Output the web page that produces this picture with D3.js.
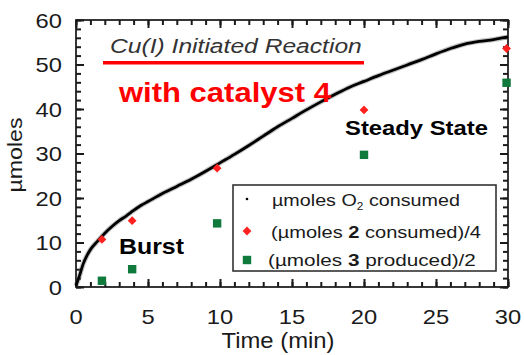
<!DOCTYPE html>
<html>
<head>
<meta charset="utf-8">
<script src="https://cdn.jsdelivr.net/npm/d3@7"></script>
<style>
  body { margin: 0; background: #fff; }
  svg { display: block; }
  text { font-family: "Liberation Sans", Arial, Helvetica, sans-serif; }
</style>
</head>
<body>
<svg id="chart" width="524" height="355"></svg>
<script>
// O2 uptake trace (time in min, µmoles O2 consumed)
const o2Time  = [0, 0.25, 0.5, 0.75, 1, 1.5, 2, 2.5, 3, 3.5, 4, 4.5, 5, 6, 7, 8, 9, 10,
                 11, 12, 13, 14, 15, 16, 17, 18, 19, 20, 21, 22, 23, 24, 25, 26, 27, 28, 29, 29.5, 30];
const o2Moles = [0.3, 2.6, 5.2, 7.0, 8.4, 10.3, 12.1, 13.6, 14.9, 16.0, 17.2, 18.3, 19.2, 21.0, 22.6, 24.2, 26.0, 27.9,
                 29.8, 31.8, 33.9, 36.0, 37.9, 39.8, 41.6, 43.3, 44.9, 46.2, 47.5, 48.7, 49.9, 51.1, 52.4, 53.6, 54.6, 55.2, 55.6, 55.9, 56.2];

// Discrete samples
const sampleTime = [1.8, 3.9, 9.8, 20.0, 29.9];
const consumed2  = [10.7, 14.9, 26.7, 39.8, 53.6];   // (µmoles 2 consumed)/4
const produced3  = [1.4, 4.0, 14.3, 29.7, 45.9];     // (µmoles 3 produced)/2

const xTicks = [0, 5, 10, 15, 20, 25, 30];
const yTicks = [0, 10, 20, 30, 40, 50, 60];
const xMinorTicks = d3.range(0, 31, 1);
const yMinorTicks = d3.range(0, 61, 2);

const RED = "#ff2020";
const GREEN = "#0f7a3c";

const svg = d3.select("#chart");
const x = d3.scaleLinear().domain([0, 30]).range([76, 508]);
const y = d3.scaleLinear().domain([0, 60]).range([287, 20]);

// Helper: text whose width is fitted by a horizontal scale
function fitText(parent, opts) {
  const t = parent.append("text")
    .attr("font-size", opts.size)
    .attr("font-weight", opts.weight || "normal")
    .attr("font-style", opts.style || "normal")
    .attr("fill", opts.fill || "#111")
    .attr("text-anchor", opts.anchor || "start");
  if (opts.parts) {
    opts.parts.forEach(p => {
      const s = t.append("tspan").text(p.t);
      if (p.bold) s.attr("font-weight", "bold");
      if (p.sub) s.attr("font-size", opts.size * 0.6).attr("dy", opts.size * 0.25);
      if (p.unsub) s.attr("dy", -opts.size * 0.25);
    });
  } else {
    t.text(opts.text);
  }
  let sx = opts.scale || 1;
  if (opts.width) sx = opts.width / t.node().getComputedTextLength();
  const rot = opts.rotate ? ` rotate(${opts.rotate})` : "";
  t.attr("transform", `translate(${opts.x},${opts.y})${rot} scale(${sx},1)`);
  return t;
}

// Frame
svg.append("rect")
  .attr("x", x(0)).attr("y", y(60))
  .attr("width", x(30) - x(0)).attr("height", y(0) - y(60))
  .attr("fill", "none").attr("stroke", "#222").attr("stroke-width", 1.8);

// Inward tick combs on all four sides, drawn with d3 axes
function comb(axis, tx, ty) {
  const g = svg.append("g").attr("transform", `translate(${tx},${ty})`).call(axis);
  g.select(".domain").remove();
  g.selectAll(".tick line").attr("stroke", "#1a1a1a").attr("stroke-width", 2);
  g.selectAll(".tick text").remove();
}
[[5, xMinorTicks], [8, xTicks]].forEach(([len, vals]) => {
  comb(d3.axisBottom(x).tickValues(vals).tickSize(-len).tickFormat(""), 0, y(0));
  comb(d3.axisTop(x).tickValues(vals).tickSize(-len).tickFormat(""), 0, y(60));
});
[[5, yMinorTicks], [8, yTicks]].forEach(([len, vals]) => {
  comb(d3.axisLeft(y).tickValues(vals).tickSize(-len).tickFormat(""), x(0), 0);
  comb(d3.axisRight(y).tickValues(vals).tickSize(-len).tickFormat(""), x(30), 0);
});

// Tick labels
xTicks.forEach(v => fitText(svg, { text: String(v), x: x(v), y: 324, size: 21, anchor: "middle", scale: 1.13, fill: "#1a1a1a" }));
yTicks.forEach(v => fitText(svg, { text: String(v), x: 62, y: y(v) + 7.5, size: 21, anchor: "end", scale: 1.13, fill: "#1a1a1a" }));

// Axis titles
fitText(svg, { text: "Time (min)", x: 278, y: 348, size: 22, anchor: "middle", width: 113, fill: "#1a1a1a" });
fitText(svg, { text: "µmoles", x: 22, y: 155, size: 21, anchor: "middle", width: 75, rotate: -90, fill: "#1a1a1a" });

// O2 trace
const traceLine = d3.line().x((d, i) => x(o2Time[i])).y(d => y(d)).curve(d3.curveMonotoneX);
svg.append("path").datum(o2Moles).attr("d", traceLine)
  .attr("fill", "none").attr("stroke", "#666").attr("stroke-width", 5).attr("stroke-opacity", 0.4);
svg.append("path").datum(o2Moles).attr("d", traceLine)
  .attr("fill", "none").attr("stroke", "#000").attr("stroke-width", 2.8);

// Sample markers: rotated squares and squares
const diamondPath = "M0,-4.4L4.4,0L0,4.4L-4.4,0Z";
svg.append("g").selectAll("path").data(consumed2).join("path")
  .attr("d", diamondPath)
  .attr("transform", (d, i) => `translate(${x(sampleTime[i])},${y(d)})`)
  .attr("fill", RED);

svg.append("g").selectAll("rect").data(produced3).join("rect")
  .attr("x", (d, i) => x(sampleTime[i]) - 4.2).attr("y", d => y(d) - 4.2)
  .attr("width", 8.4).attr("height", 8.4).attr("fill", GREEN);

// Annotations
fitText(svg, { text: "Cu(I) Initiated Reaction", x: 110, y: 53, size: 21, style: "italic", width: 252, fill: "#333" });
svg.append("line").attr("x1", 103).attr("x2", 364).attr("y1", 62.7).attr("y2", 62.7)
  .attr("stroke", "#ff0000").attr("stroke-width", 3.4);
fitText(svg, { text: "with catalyst 4", x: 119, y: 102, size: 27, weight: "bold", width: 212, fill: "#ff0000" });
fitText(svg, { text: "Steady State", x: 345, y: 135, size: 21, weight: "bold", width: 143, fill: "#000" });
fitText(svg, { text: "Burst", x: 119, y: 254, size: 22, weight: "bold", width: 65, fill: "#000" });

// Legend
const lg = svg.append("g");
lg.append("rect").attr("x", 233).attr("y", 185).attr("width", 263).attr("height", 86)
  .attr("fill", "#fff").attr("stroke", "#333").attr("stroke-width", 1.6);
lg.append("circle").attr("cx", 247).attr("cy", 199).attr("r", 1.3).attr("fill", "#000");
lg.append("path").attr("d", diamondPath).attr("transform", "translate(247,231)").attr("fill", RED);
lg.append("rect").attr("x", 247 - 4.2).attr("y", 260 - 4.2).attr("width", 8.4).attr("height", 8.4).attr("fill", GREEN);

fitText(lg, { x: 272, y: 206, size: 17, width: 188, fill: "#1a1a1a",
  parts: [{ t: "µmoles O" }, { t: "2", sub: true }, { t: " consumed", unsub: true }] });
fitText(lg, { x: 271, y: 238, size: 17, width: 210, fill: "#1a1a1a",
  parts: [{ t: "(µmoles " }, { t: "2", bold: true }, { t: " consumed)/4" }] });
fitText(lg, { x: 268, y: 265.5, size: 17, width: 208, fill: "#1a1a1a",
  parts: [{ t: "(µmoles " }, { t: "3", bold: true }, { t: " produced)/2" }] });
</script>
</body>
</html>
